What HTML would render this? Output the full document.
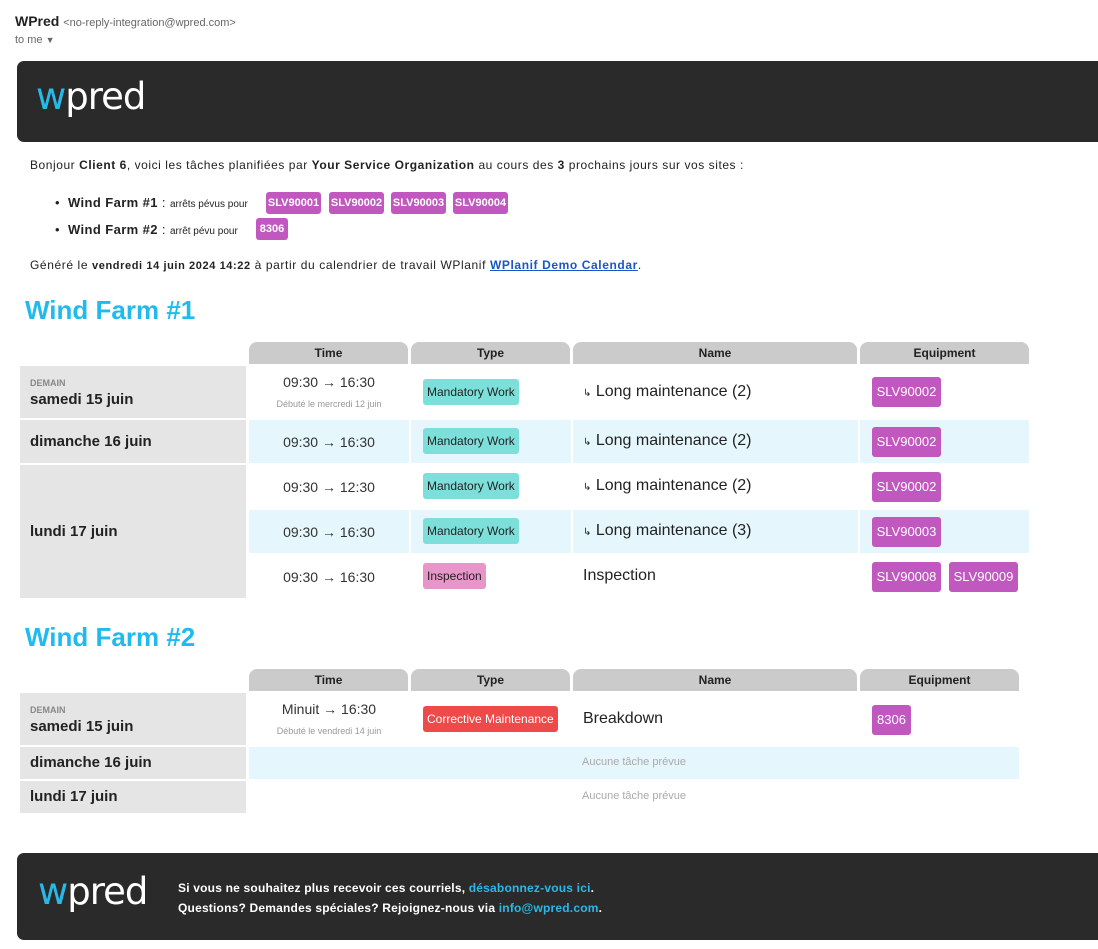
<!DOCTYPE html>
<html><head><meta charset="utf-8"><style>
*{margin:0;padding:0;box-sizing:border-box}
body{width:1098px;height:949px;background:#fff;font-family:"Liberation Sans","DejaVu Sans",sans-serif;color:#222;position:relative;overflow:hidden}
.a{position:absolute}
.bar{background:#2a2a2a;border-radius:7px 0 0 7px}
.logo{font-size:37px;color:#fff;font-family:"DejaVu Sans","Liberation Sans",sans-serif;letter-spacing:-1px}
.logo b{color:#29b9e8;font-weight:normal}
.tag{position:absolute;background:#c158c0;color:#fff;font-size:11px;font-weight:bold;border-radius:3px;height:22px;line-height:22px;text-align:center}
.eq{position:absolute;background:#c158c0;color:#fff;font-size:13px;border-radius:3px;height:30px;line-height:30px;width:69px;text-align:center}
.hd{background:#cbcbcb;border-radius:8px 8px 0 0;font-size:12px;font-weight:bold;text-align:center;line-height:22px;height:22px}
.dt{background:#e5e5e5;font-size:15px;font-weight:bold;padding-left:10px}
.lb{background:#e5f6fd}
.tm{text-align:center;font-size:14px;color:#333}
.ty{display:inline-block;font-size:12px;padding:5px 4px;border-radius:3px;line-height:16px;color:#222}
.mw{background:#7ddfd9}
.nm{font-size:16px;color:#222}
.h1{color:#1fbbee;font-size:26px;font-weight:bold}
.sm{font-size:9px;color:#999}
</style></head><body>
<div class="a" style="left:15px;top:13px;font-size:14px"><b>WPred</b> <span style="font-size:11px;color:#666">&lt;no-reply-integration@wpred.com&gt;</span></div>
<div class="a" style="left:15px;top:34px;font-size:11px;color:#666">to me <span style="font-size:9px">▼</span></div>
<div class="a bar" style="left:17px;top:61px;width:1081px;height:81px"></div>
<div class="a logo" style="left:36px;top:75px"><b>w</b>pred</div>

<div class="a" style="left:30px;top:158px;font-size:12px;letter-spacing:0.55px">Bonjour <b>Client 6</b>, voici les tâches planifiées par <b>Your Service Organization</b> au cours des <b>3</b> prochains jours sur vos sites :</div>
<div class="a" style="left:55px;top:195px;font-size:13px;letter-spacing:0.4px">•&nbsp;&nbsp;<b>Wind Farm #1</b> : <span style="font-size:10px;letter-spacing:0">arrêts pévus pour</span></div>
<div class="tag" style="left:266px;top:192px;width:55px">SLV90001</div>
<div class="tag" style="left:329px;top:192px;width:55px">SLV90002</div>
<div class="tag" style="left:391px;top:192px;width:55px">SLV90003</div>
<div class="tag" style="left:453px;top:192px;width:55px">SLV90004</div>
<div class="a" style="left:55px;top:222px;font-size:13px;letter-spacing:0.4px">•&nbsp;&nbsp;<b>Wind Farm #2</b> : <span style="font-size:10px;letter-spacing:0">arrêt pévu pour</span></div>
<div class="tag" style="left:256px;top:218px;width:32px">8306</div>
<div class="a" style="left:30px;top:258px;font-size:12px;letter-spacing:0.6px">Généré le <b style="font-size:11px">vendredi 14 juin 2024 14:22</b> à partir du calendrier de travail WPlanif <a style="color:#1a56c8;font-weight:bold;text-decoration:underline">WPlanif Demo Calendar</a>.</div>

<div class="a h1" style="left:25px;top:295px">Wind Farm #1</div>
<div class="a hd" style="left:249px;top:342px;width:159px">Time</div>
<div class="a hd" style="left:411px;top:342px;width:159px">Type</div>
<div class="a hd" style="left:573px;top:342px;width:284px">Name</div>
<div class="a hd" style="left:860px;top:342px;width:169px">Equipment</div>

<div class="a lb" style="left:249px;top:420px;width:780px;height:43px"></div>
<div class="a lb" style="left:249px;top:510px;width:780px;height:43px"></div>
<div class="a" style="left:409px;top:420px;width:2px;height:43px;background:#fff"></div>
<div class="a" style="left:571px;top:420px;width:2px;height:43px;background:#fff"></div>
<div class="a" style="left:858px;top:420px;width:2px;height:43px;background:#fff"></div>
<div class="a" style="left:409px;top:510px;width:2px;height:43px;background:#fff"></div>
<div class="a" style="left:571px;top:510px;width:2px;height:43px;background:#fff"></div>
<div class="a" style="left:858px;top:510px;width:2px;height:43px;background:#fff"></div>

<div class="a dt" style="left:20px;top:366px;width:226px;height:52px"><div style="font-size:9px;color:#888;margin-top:12px">DEMAIN</div><div style="margin-top:3px">samedi 15 juin</div></div>
<div class="a dt" style="left:20px;top:420px;width:226px;height:43px;line-height:43px">dimanche 16 juin</div>
<div class="a dt" style="left:20px;top:465px;width:226px;height:133px;line-height:133px">lundi 17 juin</div>

<div class="a tm" style="left:249px;top:374px;width:160px">09:30 → 16:30</div>
<div class="a sm" style="left:249px;top:399px;width:160px;text-align:center">Débuté le mercredi 12 juin</div>
<div class="a tm" style="left:249px;top:434px;width:160px">09:30 → 16:30</div>
<div class="a tm" style="left:249px;top:479px;width:160px">09:30 → 12:30</div>
<div class="a tm" style="left:249px;top:524px;width:160px">09:30 → 16:30</div>
<div class="a tm" style="left:249px;top:569px;width:160px">09:30 → 16:30</div>

<div class="a ty mw" style="left:423px;top:379px">Mandatory Work</div>
<div class="a ty mw" style="left:423px;top:428px">Mandatory Work</div>
<div class="a ty mw" style="left:423px;top:473px">Mandatory Work</div>
<div class="a ty mw" style="left:423px;top:518px">Mandatory Work</div>
<div class="a ty" style="left:423px;top:563px;background:#e895c9">Inspection</div>

<div class="a nm" style="left:583px;top:383px"><span style="font-size:10px">↳</span> Long maintenance (2)</div>
<div class="a nm" style="left:583px;top:432px"><span style="font-size:10px">↳</span> Long maintenance (2)</div>
<div class="a nm" style="left:583px;top:477px"><span style="font-size:10px">↳</span> Long maintenance (2)</div>
<div class="a nm" style="left:583px;top:522px"><span style="font-size:10px">↳</span> Long maintenance (3)</div>
<div class="a nm" style="left:583px;top:567px">Inspection</div>

<div class="eq" style="left:872px;top:377px">SLV90002</div>
<div class="eq" style="left:872px;top:427px">SLV90002</div>
<div class="eq" style="left:872px;top:472px">SLV90002</div>
<div class="eq" style="left:872px;top:517px">SLV90003</div>
<div class="eq" style="left:872px;top:562px">SLV90008</div>
<div class="eq" style="left:949px;top:562px">SLV90009</div>

<div class="a h1" style="left:25px;top:622px">Wind Farm #2</div>
<div class="a hd" style="left:249px;top:669px;width:159px">Time</div>
<div class="a hd" style="left:411px;top:669px;width:159px">Type</div>
<div class="a hd" style="left:573px;top:669px;width:284px">Name</div>
<div class="a hd" style="left:860px;top:669px;width:159px">Equipment</div>

<div class="a dt" style="left:20px;top:693px;width:226px;height:52px"><div style="font-size:9px;color:#888;margin-top:12px">DEMAIN</div><div style="margin-top:3px">samedi 15 juin</div></div>
<div class="a dt" style="left:20px;top:747px;width:226px;height:32px;line-height:32px">dimanche 16 juin</div>
<div class="a dt" style="left:20px;top:781px;width:226px;height:32px;line-height:32px">lundi 17 juin</div>
<div class="a lb" style="left:249px;top:747px;width:770px;height:32px"></div>

<div class="a tm" style="left:249px;top:701px;width:160px">Minuit → 16:30</div>
<div class="a sm" style="left:249px;top:726px;width:160px;text-align:center">Débuté le vendredi 14 juin</div>
<div class="a ty" style="left:423px;top:706px;background:#ef4a4a;color:#fff">Corrective Maintenance</div>
<div class="a nm" style="left:583px;top:710px">Breakdown</div>
<div class="eq" style="left:872px;top:705px;width:39px">8306</div>
<div class="a" style="left:249px;top:756px;width:770px;text-align:center;font-size:11px;color:#aaa">Aucune tâche prévue</div>
<div class="a" style="left:249px;top:790px;width:770px;text-align:center;font-size:11px;color:#aaa">Aucune tâche prévue</div>

<div class="a bar" style="left:17px;top:853px;width:1081px;height:87px"></div>
<div class="a logo" style="left:38px;top:870px"><b>w</b>pred</div>
<div class="a" style="left:178px;top:878px;font-size:12px;color:#fff;line-height:20px;font-weight:bold;letter-spacing:0.2px">Si vous ne souhaitez plus recevoir ces courriels, <span style="color:#29b9e8">désabonnez-vous ici</span>.<br>Questions? Demandes spéciales? Rejoignez-nous via <span style="color:#29b9e8">info@wpred.com</span>.</div>
</body></html>
